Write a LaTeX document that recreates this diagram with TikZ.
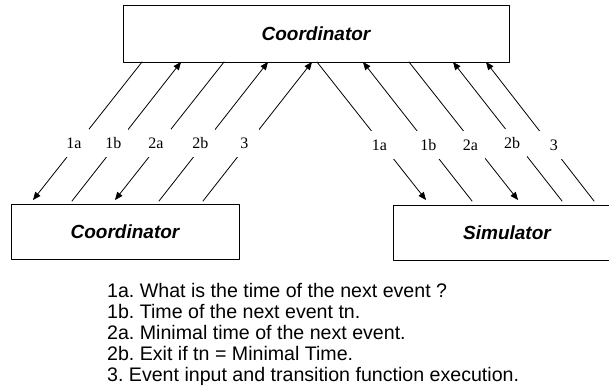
\documentclass[tikz,border=0pt]{standalone}
\usepackage{fontspec}
\setmainfont{Liberation Sans}
\newfontfamily\lblfont{Liberation Serif}
\usetikzlibrary{arrows}
\frenchspacing

\tikzset{
  box/.style={draw, line width=1pt, inner sep=0pt, font=\fontsize{19}{22}\selectfont\bfseries\itshape},
  msg/.style={->, line width=0.8pt},
  lbl/.style={fill=white, inner sep=0pt, minimum width=30pt, minimum height=28pt, font=\lblfont\fontsize{16}{18}\selectfont},
}

\begin{document}
\begin{tikzpicture}[line cap=round,line join=round,>=triangle 45,x=1pt,y=-1pt]
\clip (0,0) rectangle (609,391);
% the three processors
\node[box, minimum width=386pt, minimum height=57pt] (coordtop) at (316,33.5) {Coordinator};
\node[box, minimum width=228pt, minimum height=55pt] (coordleft) at (125,231.5) {Coordinator};
\node[box, minimum width=228pt, minimum height=55pt] (simright) at (507,232.5) {Simulator};

% ends of the messages, top coordinator to left coordinator
\coordinate (tl1a) at (142,62);  \coordinate (bl1a) at (33,200);
\coordinate (tl1b) at (181,62);  \coordinate (bl1b) at (72,201);
\coordinate (tl2a) at (224,62);  \coordinate (bl2a) at (115,200);
\coordinate (tl2b) at (268,62);  \coordinate (bl2b) at (159,201);
\coordinate (tl3)  at (312,62);  \coordinate (bl3)  at (203,201);
% top coordinator to simulator
\coordinate (tr1a) at (317,62);  \coordinate (br1a) at (426,200);
\coordinate (tr1b) at (363,62);  \coordinate (br1b) at (472,201);
\coordinate (tr2a) at (409,62);  \coordinate (br2a) at (518,200);
\coordinate (tr2b) at (453,62);  \coordinate (br2b) at (562,201);
\coordinate (tr3)  at (486,62);  \coordinate (br3)  at (594,201);

\draw[msg] (tl1a) -- node[lbl, pos=0.587, xshift=-4pt] (m1a) {1a} (bl1a);
\draw[msg] (bl1b) -- node[lbl, pos=0.417, xshift=-4pt] (m1b) {1b} (tl1b);
\draw[msg] (tl2a) -- node[lbl, pos=0.587, xshift=-4pt] (m2a) {2a} (bl2a);
\draw[msg] (bl2b) -- node[lbl, pos=0.417, xshift=-4pt] (m2b) {2b} (tl2b);
\draw[msg] (bl3) -- node[lbl, pos=0.417, xshift=-4pt] (m3) {3} (tl3);

\draw[msg] (tr1a) -- node[lbl, pos=0.6, xshift=-3pt] (n1a) {1a} (br1a);
\draw[msg] (br1b) -- node[lbl, pos=0.4] (n1b) {1b} (tr1b);
\draw[msg] (tr2a) -- node[lbl, pos=0.6, xshift=-4pt] (n2a) {2a} (br2a);
\draw[msg] (br2b) -- node[lbl, pos=0.42, xshift=-4pt] (n2b) {2b} (tr2b);
\draw[msg] (br3) -- node[lbl, pos=0.4, xshift=3pt] (n3) {3} (tr3);

% legend
\node[anchor=north west, inner sep=0pt, align=left, font=\fontsize{19.6}{20.8}\selectfont] (legend) at (107,283.5) {1a. What is the time of the next event ?\\
1b. Time of the next event tn.\\
2a. Minimal time of the next event.\\
2b. Exit if tn = Minimal Time.\\
3. Event input and transition function execution.};
\end{tikzpicture}
\end{document}
